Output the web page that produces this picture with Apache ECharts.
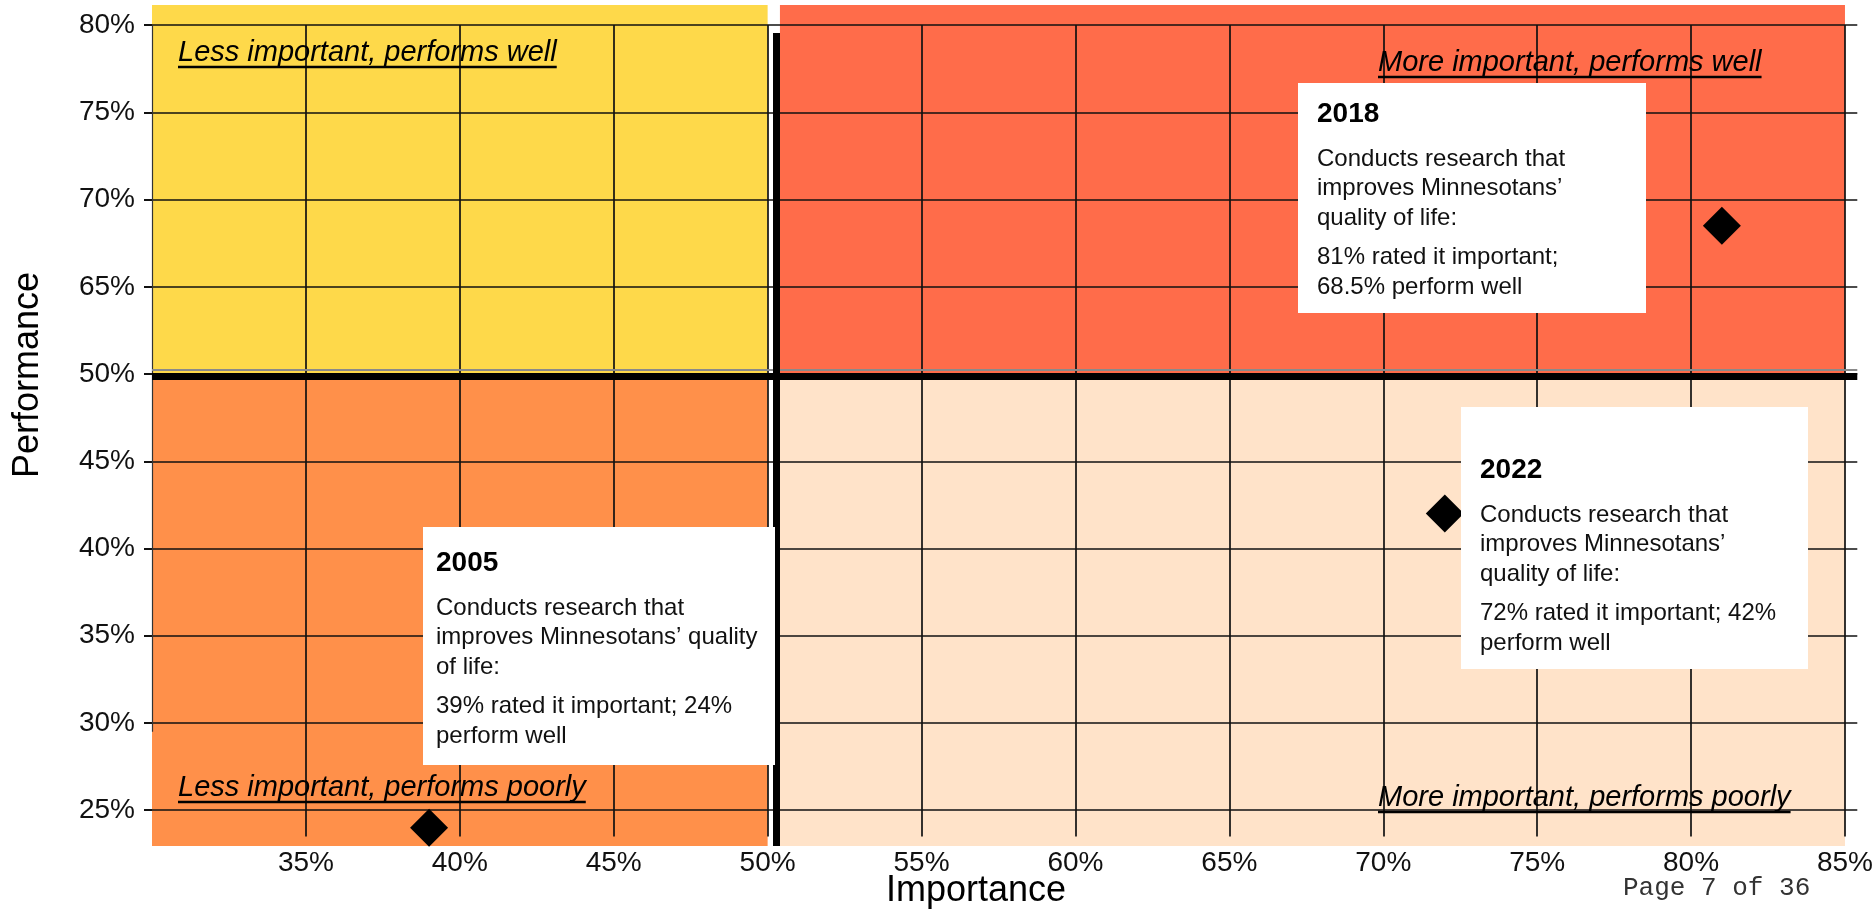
<!DOCTYPE html>
<html>
<head>
<meta charset="utf-8">
<script src="https://cdn.jsdelivr.net/npm/echarts@6.0.0/dist/echarts.min.js"></script>
<style>
  html, body { margin: 0; padding: 0; background: #fff; }
  #chart { width: 1876px; height: 911px; }
</style>
</head>
<body>
<div id="chart"></div>
<script>
// survey points
const years = ['2005', '2018', '2022'];
const importance = [39, 81, 72];
const performance = [24, 68.5, 42];

// tick labels (the performance axis skips 55% and 60%)
const xTicks = [35, 40, 45, 50, 55, 60, 65, 70, 75, 80, 85];
const yTicks = [25, 30, 35, 40, 45, 50, 65, 70, 75, 80];

const quadrantLabels = [
  'Less important, performs well',
  'More important, performs well',
  'Less important, performs poorly',
  'More important, performs poorly'
];

const notes = [
  [['Conducts research that', 'improves Minnesotans\u2019 quality', 'of life:'], ['39% rated it important; 24%', 'perform well']],
  [['Conducts research that', 'improves Minnesotans\u2019', 'quality of life:'], ['81% rated it important;', '68.5% perform well']],
  [['Conducts research that', 'improves Minnesotans\u2019', 'quality of life:'], ['72% rated it important; 42%', 'perform well']]
];

// broken axis: values above 50% are shifted down by the 10 missing points
const toAxis = (v) => (v > 50 ? v - 10 : v);
const fromAxis = (p) => (p > 50 ? p + 10 : p);

const FONT = '"Liberation Sans", Arial, sans-serif';
const X_MIN = 30, X_MAX = 85.4, Y_MIN = 22.95, Y_MAX = 71.15;

const chart = echarts.init(document.getElementById('chart'));

const gridLine = { color: '#111', width: 1.7, type: 'solid' };
const hLines = yTicks.map((t) => [
  { coord: [X_MIN, toAxis(t)], lineStyle: gridLine },
  { coord: [X_MAX, toAxis(t)] }
]);
const vLines = xTicks.map((t) => [
  { coord: [t, toAxis(80)], lineStyle: gridLine },
  { coord: [t, 23.5] }
]);
vLines.push([
  { coord: [X_MIN, toAxis(80)], lineStyle: { color: '#333', width: 1.2, type: 'solid' } },
  { coord: [X_MIN, 29.5] }
]);

const dividers = [
  [{ coord: [X_MIN, 50.25], lineStyle: { color: '#8a8a8a', width: 2, type: 'solid' } }, { coord: [X_MAX, 50.25] }],
  [{ coord: [X_MIN, 49.9], lineStyle: { color: '#000', width: 7, type: 'solid' } }, { coord: [X_MAX, 49.9] }],
  [{ coord: [50.27, 69.55], lineStyle: { color: '#000', width: 7, type: 'solid' } }, { coord: [50.27, Y_MIN] }]
];

// white annotation boxes + quadrant captions
const boxes = [
  { left: 423, top: 527, width: 352, height: 238, textLeft: 436, titleY: 563 },
  { left: 1298, top: 83, width: 348, height: 230, textLeft: 1317, titleY: 114 },
  { left: 1461, top: 407, width: 347, height: 262, textLeft: 1480, titleY: 470 }
];
const captionPos = [
  { x: 178, base: 63 },
  { x: 1378, base: 73 },
  { x: 178, base: 798 },
  { x: 1378, base: 808 }
];

const measure = document.createElement('canvas').getContext('2d');
const graphics = [];
boxes.forEach((b, i) => {
  graphics.push({ type: 'rect', z: 100, shape: { x: b.left, y: b.top, width: b.width, height: b.height }, style: { fill: '#fff' } });
  graphics.push({ type: 'text', z: 101, x: b.textLeft, y: b.titleY,
    style: { text: years[i], font: 'bold 28px ' + FONT, fill: '#000', textAlign: 'left', textVerticalAlign: 'middle', align: 'left', verticalAlign: 'middle' } });
  let y = b.titleY + 45;
  notes[i].forEach((para, k) => {
    if (k > 0) y += 10;
    para.forEach((line) => {
      graphics.push({ type: 'text', z: 101, x: b.textLeft, y: y,
        style: { text: line, font: '24px ' + FONT, fill: '#111', textAlign: 'left', textVerticalAlign: 'middle', align: 'left', verticalAlign: 'middle' } });
      y += 29.6;
    });
  });
});
quadrantLabels.forEach((label, i) => {
  const p = captionPos[i];
  const font = 'italic 29px ' + FONT;
  measure.font = font;
  const w = measure.measureText(label).width;
  graphics.push({ type: 'text', z: 90, x: p.x, y: p.base - 10,
    style: { text: label, font: font, fill: '#000', textAlign: 'left', textVerticalAlign: 'middle', align: 'left', verticalAlign: 'middle' } });
  graphics.push({ type: 'line', z: 90, shape: { x1: p.x, y1: p.base + 4, x2: p.x + w, y2: p.base + 4 }, style: { stroke: '#000', lineWidth: 2.5 } });
});
graphics.push({ type: 'text', z: 90, x: 28, y: 375, rotation: Math.PI / 2,
  style: { text: 'Performance', font: '36px ' + FONT, fill: '#000', textAlign: 'center', textVerticalAlign: 'middle', align: 'center', verticalAlign: 'middle' } });
graphics.push({ type: 'text', z: 90, x: 976, y: 891,
  style: { text: 'Importance', font: '36px ' + FONT, fill: '#000', textAlign: 'center', textVerticalAlign: 'middle', align: 'center', verticalAlign: 'middle' } });
graphics.push({ type: 'text', z: 90, x: 1623, y: 888,
  style: { text: 'Page 7 of 36', font: '26px "Liberation Mono", monospace', fill: '#333', textAlign: 'left', textVerticalAlign: 'middle', align: 'left', verticalAlign: 'middle' } });

chart.setOption({
  animation: false,
  backgroundColor: '#fff',
  grid: { left: 152, right: 14, top: 5, bottom: 65 },
  xAxis: {
    type: 'value', min: X_MIN, max: X_MAX,
    axisLine: { show: false }, axisTick: { show: false }, splitLine: { show: false },
    axisLabel: {
      customValues: xTicks, formatter: (v) => v + '%', margin: 3,
      fontFamily: FONT, fontSize: 28, color: '#111'
    }
  },
  yAxis: {
    type: 'value', min: Y_MIN, max: Y_MAX,
    axisLine: { show: false }, splitLine: { show: false },
    axisTick: { show: true, customValues: yTicks.map(toAxis), length: 8, lineStyle: { color: '#111', width: 2 } },
    axisLabel: {
      customValues: yTicks.map(toAxis), formatter: (v) => fromAxis(v) + '%', margin: 17,
      fontFamily: FONT, fontSize: 28, color: '#111'
    }
  },
  graphic: graphics,
  series: [
    {
      name: 'quadrants', type: 'scatter', data: [], silent: true, z: 1,
      markArea: {
        silent: true,
        data: [
          [{ coord: [X_MIN, 50], itemStyle: { color: '#FED94A', opacity: 1 } }, { coord: [50, Y_MAX] }],
          [{ coord: [50.4, 50], itemStyle: { color: '#FF6C4A', opacity: 1 } }, { coord: [85, Y_MAX] }],
          [{ coord: [X_MIN, Y_MIN], itemStyle: { color: '#FF904A', opacity: 1 } }, { coord: [50, 50] }],
          [{ coord: [50.4, Y_MIN], itemStyle: { color: '#FFE3C9', opacity: 1 } }, { coord: [85, 50] }]
        ]
      }
    },
    {
      name: 'grid', type: 'scatter', data: [], silent: true, z: 2,
      markLine: { silent: true, symbol: ['none', 'none'], label: { show: false }, lineStyle: { type: 'solid', opacity: 1 }, data: hLines.concat(vLines) }
    },
    {
      name: 'dividers', type: 'scatter', data: [], silent: true, z: 3,
      markLine: { silent: true, symbol: ['none', 'none'], label: { show: false }, lineStyle: { type: 'solid', opacity: 1 }, data: dividers }
    },
    {
      name: 'points', type: 'scatter', z: 5,
      symbol: 'diamond', symbolSize: 38,
      itemStyle: { color: '#000', opacity: 1 },
      data: importance.map((x, i) => [x, toAxis(performance[i])])
    }
  ]
});
</script>
</body>
</html>
